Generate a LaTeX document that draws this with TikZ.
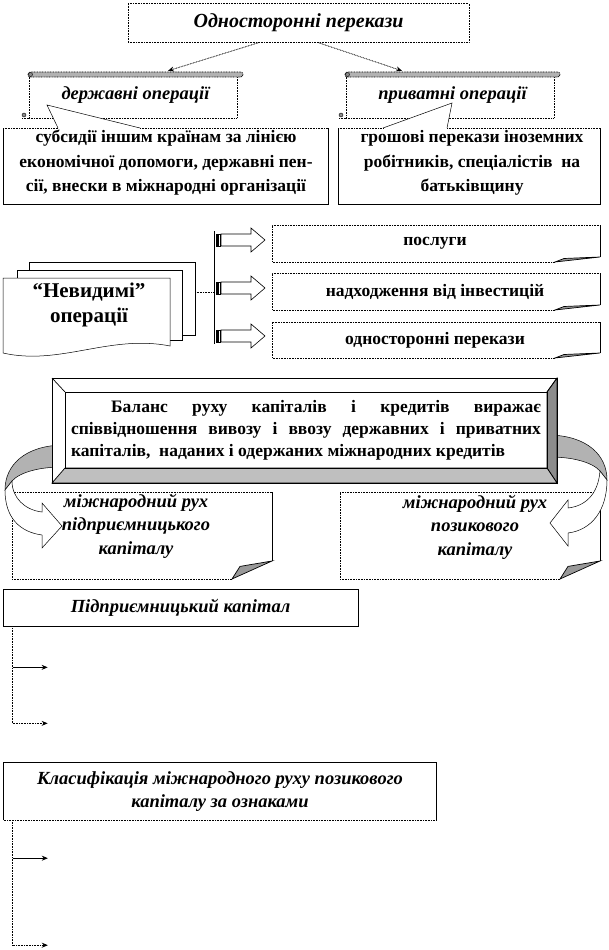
\documentclass[tikz,border=0pt]{standalone}
\usepackage{fontspec}
\setmainfont{Liberation Serif}
\usetikzlibrary{arrows.meta,calc}
\newcommand{\scrollshape}[4]{%
  \filldraw[fill=white, dotl] (#1+1,#2+3) rectangle (#3-6,#4);
  \draw[dotl] (#1-6,#4) -- (#1+1,#4);
  \filldraw[fill=black!30, dotl, rounded corners=2.5pt] (#1,#2) rectangle (#3,#2+5);
  \filldraw[fill=black!45, line width=0.4pt] (#1+2.5,#2+2.5) circle (2);
  \filldraw[fill=black!45, line width=0.4pt] (#1-4,#4-3) circle (2);
}
\newcommand{\foldbox}[6]{%
  \fill[white] (#1,#2) -- (#3,#2) -- (#3,#4-#6) -- (#3-#5,#4) -- (#1,#4) -- cycle;
  \draw[dotl] (#3-#5,#4) -- (#1,#4) -- (#1,#2) -- (#3,#2);
  \draw[sol] (#3,#2) -- (#3,#4-#6);
  \filldraw[fill=black!40, sol] (#3-#5,#4) -- (#3,#4-#6) -- (#3-0.8*#5,#4-0.7*#6) -- cycle;
}
\newcommand{\stripearrow}[2]{%
  \filldraw[fill=white, line width=0.5pt] (#1+2,#2-6) rectangle (#1+3.5,#2+6);
  \filldraw[fill=white, line width=0.5pt] (#1+4.5,#2-6) rectangle (#1+6,#2+6);
  \filldraw[fill=white, line width=0.6pt] (#1+7,#2-6) -- (#1+37,#2-6) -- (#1+37,#2-12) -- (#1+51,#2) -- (#1+37,#2+12) -- (#1+37,#2+6) -- (#1+7,#2+6) -- cycle;
}
\begin{document}
\begin{tikzpicture}[x=1pt,y=-1pt,
  dotl/.style={line width=0.8pt, dash pattern=on 0.8pt off 0.8pt},
  sol/.style={line width=0.7pt},
  bitext/.style={font=\fontsize{18.5}{23.5}\selectfont\bfseries\itshape, align=center, inner sep=0pt},
  btext/.style={font=\fontsize{17.5}{24.5}\selectfont\bfseries, align=center, inner sep=0pt},
  tip/.style={-{Stealth[length=6pt,width=5pt]}},
]
\useasboundingbox (0,0) rectangle (609,950);
\fill[white] (0,0) rectangle (609,950);

% ---------- top
\node[draw, dotl, minimum width=341pt, minimum height=39pt, inner sep=0pt,
      font=\fontsize{20}{22}\selectfont\bfseries\itshape] (top) at (298.5,23) {Односторонні перекази};

\scrollshape{28}{72}{243}{118}
\scrollshape{345}{72}{560}{118}
\node[bitext, minimum width=215pt, minimum height=46pt] (sl) at (135.5,95) {державні операції};
\node[bitext, minimum width=215pt, minimum height=46pt] (sr) at (452.5,95) {приватні операції};

\draw[dotl, tip] ($(top.south)+(-40.5,0)$) -- ($(sl.north)+(32.5,-1)$);
\draw[dotl, tip] ($(top.south)+(20.5,0)$) -- ($(sr.north)+(-50.5,-1)$);

% callouts
\fill[white] (3,128) -- (58,128) -- (47,105) -- (140,128) -- (328,128) -- (328,204) -- (3,204) -- cycle;
\draw[sol] (328,128) -- (328,204) -- (3,204) -- (3,128);
\draw[dotl] (3,128) -- (58,128) (140,128) -- (328,128);
\draw[line width=0.5pt] (58,128) -- (47,105) -- (140,128);
\fill[white] (338,128) -- (383,128) -- (452,103) -- (447,128) -- (600,128) -- (600,204) -- (338,204) -- cycle;
\draw[sol] (600,128) -- (600,204) -- (338,204) -- (338,128);
\draw[dotl] (338,128) -- (383,128) (447,128) -- (600,128);
\draw[line width=0.5pt] (383,128) -- (452,103) -- (447,128);

\node[btext] (cl) at (166,163) {субсидії іншим країнам за лінією\\економічної допомоги, державні пен-\\сії, внески в міжнародні організації};
\node[btext] (cr) at (472,163) {грошові перекази іноземних\\робітників, спеціалістів\ \ на\\батьківщину};

% ---------- invisible operations
\filldraw[fill=white, line width=0.5pt] (29,262) rectangle (195,335);
\filldraw[fill=white, line width=0.5pt] (17,270) rectangle (182,340);
\filldraw[fill=white, line width=0.5pt] (3,278) -- (170,278) -- (170,346) .. controls (110,334) and (60,366) .. (3,353) -- cycle;
\node[font=\fontsize{21}{25}\selectfont\bfseries, align=center, inner sep=0pt] (docs) at (89,305) {“Невидимі”\\операції};

\draw[sol] (214,231) -- (214,344);
\draw[dotl] (195,292) -- (214,292);
\stripearrow{214}{240}
\stripearrow{214}{288}
\stripearrow{214}{336}

\foldbox{272}{225}{600}{262}{45}{5}
\foldbox{272}{273}{600}{310}{45}{5}
\foldbox{272}{322}{600}{358}{45}{5}
\node[btext] (s1) at (435,243.5) {послуги};
\node[btext] (s2) at (435,291.5) {надходження від інвестицій};
\node[btext] (s3) at (435,340) {односторонні перекази};

% ---------- balance
\foldbox{12}{492}{272}{579}{40}{18}
\foldbox{340}{492}{600}{579}{40}{18}

% curved arrows
\filldraw[fill=black!30, line width=0.5pt] (62,445) .. controls (25,446) and (5,465) .. (5,490) -- (12,481) .. controls (20,472) and (40,467) .. (62,467) -- cycle;
\filldraw[fill=white, line width=0.5pt] (5,490) .. controls (5,518) and (20,532) .. (42,535) -- (42,548) -- (62,526) -- (42,503) -- (42,512) .. controls (25,510) and (12,498) .. (12,481) -- cycle;
\filldraw[fill=black!30, line width=0.5pt] (550,435) .. controls (587,436) and (607,455) .. (607,480) -- (600,471) .. controls (592,462) and (572,457) .. (550,457) -- cycle;
\filldraw[fill=white, line width=0.5pt] (607,480) .. controls (607,510) and (592,530) .. (568,533) -- (568,546) -- (550,523) -- (568,500) -- (568,508) .. controls (585,506) and (598,495) .. (600,471) -- cycle;

\node[bitext] (ml) at (136,526) {міжнародний рух\\підприємницького\\капіталу};
\node[bitext] (mr) at (475,527) {міжнародний рух\\позикового\\капіталу};

\fill[white] (52,378) rectangle (557,483);
\filldraw[fill=black!45, sol] (557,378) -- (557,483) -- (547,468) -- (547,392) -- cycle;
\filldraw[fill=black!25, sol] (52,483) -- (557,483) -- (547,468) -- (65,468) -- cycle;
\draw[sol] (52,378) rectangle (557,483);
\draw[sol] (52,378) -- (65,392) (557,378) -- (547,392);
\draw[sol] (65,392) rectangle (547,468);
\node[font=\fontsize{17.5}{22}\selectfont\bfseries, align=left, inner sep=0pt] (bal) at (306,430)
  {\makebox[470pt][s]{\hspace{40pt}Баланс руху капіталів і кредитів виражає}\\
   \makebox[470pt][s]{співвідношення вивозу і ввозу державних і приватних}\\
   \makebox[470pt][l]{капіталів, \ наданих і одержаних міжнародних кредитів}};

% ---------- enterprise capital
\node[draw, sol, minimum width=355pt, minimum height=37pt, inner sep=0pt,
      font=\fontsize{18.5}{21}\selectfont\bfseries\itshape] (pk) at (180.5,607.5) {Підприємницький капітал};
\draw[dotl] ($(pk.south west)+(10,0)$) coordinate (pkv) -- ++(0,97) coordinate (pkb);
\draw[sol, tip] ($(pkv)+(0,41)$) -- ++(35,0) coordinate (pa1);
\draw[dotl, tip] (pkb) -- ++(35,0) coordinate (pa2);

% ---------- classification
\node[bitext, minimum width=432pt, minimum height=57pt] (kl) at (220,791.5) {Класифікація міжнародного руху позикового\\капіталу за ознаками};
\draw[sol] (kl.south west) -- (kl.north west) -- (kl.north east) -- (kl.south east);
\draw[dotl] (kl.south west) -- (kl.south east);
\draw[dotl] ($(kl.south west)+(9,0)$) coordinate (klv) -- ++(0,125) coordinate (klb);
\draw[sol, tip] ($(klv)+(0,38)$) -- ++(35,0) coordinate (ka1);
\draw[dotl, tip] (klb) -- ++(35,0) coordinate (ka2);
\end{tikzpicture}
\end{document}
